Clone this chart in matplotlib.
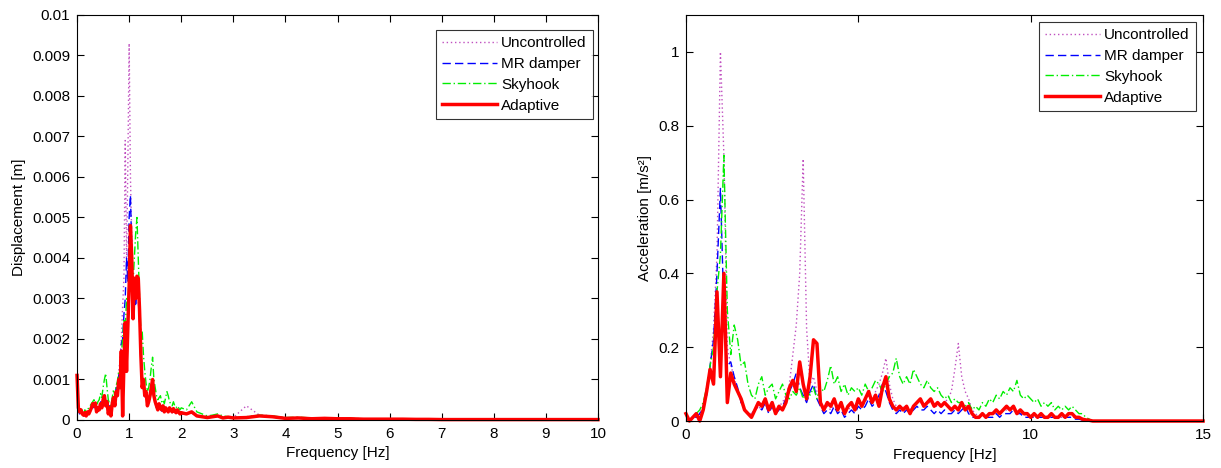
import numpy as np
import matplotlib
matplotlib.use('Agg')
import matplotlib.pyplot as plt
from matplotlib.ticker import MultipleLocator, FuncFormatter

plt.rcParams['font.family'] = ['Liberation Sans', 'DejaVu Sans']
plt.rcParams['font.size'] = 10

LABELS = ['Uncontrolled', 'MR damper', 'Skyhook', 'Adaptive']

# ---- left panel: displacement spectrum, values in mm ----
# frequency grid: 0..1.975 step 0.025, 2.0..2.9 step 0.1, 3.0..10 step 0.25
freq_disp = np.concatenate([np.arange(80) * 0.025,
                            2.0 + np.arange(10) * 0.1,
                            3.0 + np.arange(29) * 0.25])

disp_uncontrolled = [
    1.00, 0.30, 0.20, 0.25, 0.15, 0.12, 0.20, 0.15, 0.20, 0.22,
    0.28, 0.30, 0.38, 0.35, 0.40, 0.25, 0.30, 0.30, 0.42, 0.35,
    0.55, 0.60, 0.40, 0.50, 0.25, 0.35, 0.20, 0.45, 0.60, 0.50,
    0.80, 0.75, 1.20, 1.50, 2.00, 2.80, 3.50, 6.90, 3.80, 6.30,
    9.30, 6.00, 4.50, 3.20, 3.40, 3.00, 3.30, 3.10, 2.50, 1.50,
    1.00, 0.90, 0.60, 0.65, 0.45, 0.45, 0.60, 0.75, 0.95, 0.60,
    0.45, 0.32, 0.28, 0.38, 0.30, 0.25, 0.32, 0.22, 0.30, 0.25,
    0.22, 0.28, 0.24, 0.20, 0.27, 0.22, 0.18, 0.24, 0.20, 0.15,
    0.18, 0.15, 0.20, 0.12, 0.08, 0.07, 0.08, 0.10, 0.06, 0.07,
    0.06, 0.35, 0.12, 0.10, 0.05, 0.06, 0.04, 0.05, 0.03, 0.03,
    0.02, 0.02, 0.02, 0.02, 0.015, 0.015, 0.01, 0.01, 0.01, 0.01,
    0.01, 0.01, 0.01, 0.01, 0.01, 0.01, 0.01, 0.01, 0.01,
]
disp_mr = [
    0.90, 0.25, 0.15, 0.20, 0.12, 0.10, 0.15, 0.12, 0.18, 0.20,
    0.25, 0.28, 0.35, 0.30, 0.38, 0.25, 0.30, 0.30, 0.45, 0.35,
    0.55, 0.55, 0.40, 0.50, 0.25, 0.35, 0.20, 0.45, 0.60, 0.50,
    0.80, 0.75, 1.10, 1.20, 1.90, 2.00, 2.60, 3.00, 4.00, 3.40,
    5.00, 5.55, 4.20, 3.00, 3.30, 2.80, 3.20, 3.00, 2.40, 1.40,
    0.90, 0.80, 0.55, 0.60, 0.40, 0.40, 0.55, 0.70, 0.90, 0.55,
    0.40, 0.30, 0.25, 0.35, 0.28, 0.22, 0.30, 0.20, 0.28, 0.22,
    0.20, 0.25, 0.22, 0.18, 0.25, 0.20, 0.16, 0.22, 0.18, 0.14,
    0.16, 0.14, 0.18, 0.10, 0.07, 0.06, 0.07, 0.09, 0.05, 0.06,
    0.05, 0.05, 0.12, 0.07, 0.04, 0.05, 0.03, 0.04, 0.03, 0.03,
    0.02, 0.02, 0.02, 0.02, 0.015, 0.015, 0.01, 0.01, 0.01, 0.01,
    0.01, 0.01, 0.01, 0.01, 0.01, 0.01, 0.01, 0.01, 0.01,
]
disp_skyhook = [
    0.80, 0.30, 0.25, 0.30, 0.20, 0.15, 0.25, 0.20, 0.25, 0.30,
    0.35, 0.40, 0.45, 0.50, 0.40, 0.35, 0.45, 0.50, 0.65, 0.55,
    0.80, 1.00, 1.15, 0.80, 0.50, 0.40, 0.35, 0.55, 0.75, 0.60,
    0.85, 0.95, 1.20, 1.10, 1.60, 2.00, 2.50, 2.20, 3.00, 2.80,
    3.60, 4.20, 3.80, 3.40, 4.00, 4.60, 5.00, 4.00, 3.00, 2.20,
    2.20, 1.60, 1.20, 0.90, 0.70, 0.80, 1.00, 1.30, 1.55, 1.00,
    0.80, 0.60, 0.50, 0.55, 0.60, 0.45, 0.50, 0.40, 0.55, 0.70,
    0.60, 0.45, 0.40, 0.35, 0.45, 0.35, 0.30, 0.35, 0.30, 0.25,
    0.30, 0.25, 0.45, 0.20, 0.15, 0.10, 0.12, 0.15, 0.10, 0.08,
    0.07, 0.08, 0.12, 0.10, 0.06, 0.07, 0.05, 0.05, 0.04, 0.04,
    0.03, 0.03, 0.03, 0.02, 0.02, 0.02, 0.015, 0.01, 0.01, 0.01,
    0.01, 0.01, 0.01, 0.01, 0.01, 0.01, 0.01, 0.01, 0.01,
]
disp_adaptive = [
    1.10, 0.30, 0.20, 0.25, 0.15, 0.12, 0.18, 0.10, 0.20, 0.15,
    0.22, 0.30, 0.40, 0.35, 0.42, 0.20, 0.30, 0.25, 0.40, 0.30,
    0.50, 0.60, 0.35, 0.45, 0.15, 0.30, 0.10, 0.40, 0.55, 0.35,
    0.70, 0.60, 1.00, 0.80, 1.70, 0.10, 1.40, 2.40, 1.20, 2.30,
    3.30, 4.80, 4.00, 2.50, 3.50, 3.00, 3.55, 3.50, 2.70, 1.60,
    0.80, 1.00, 0.60, 0.70, 0.35, 0.45, 0.60, 0.80, 1.00, 0.60,
    0.45, 0.35, 0.25, 0.40, 0.30, 0.25, 0.35, 0.20, 0.30, 0.25,
    0.20, 0.30, 0.25, 0.20, 0.28, 0.22, 0.18, 0.25, 0.20, 0.15,
    0.18, 0.15, 0.20, 0.10, 0.08, 0.06, 0.08, 0.10, 0.05, 0.07,
    0.05, 0.06, 0.10, 0.08, 0.04, 0.05, 0.03, 0.04, 0.03, 0.03,
    0.02, 0.02, 0.02, 0.02, 0.015, 0.015, 0.01, 0.01, 0.01, 0.01,
    0.01, 0.01, 0.01, 0.01, 0.01, 0.01, 0.01, 0.01, 0.01,
]

# ---- right panel: acceleration spectrum, m/s^2 ----
# frequency grid: 0..11.9 step 0.1, then 12, 13, 14, 15
freq_acc = np.concatenate([np.arange(120) * 0.1, [12.0, 13.0, 14.0, 15.0]])

acc_uncontrolled = [
    0.01, 0.00, 0.01, 0.01, 0.02, 0.04, 0.08, 0.15, 0.25, 0.45,
    1.00, 0.72, 0.20, 0.15, 0.12, 0.08, 0.05, 0.03, 0.02, 0.02,
    0.03, 0.04, 0.03, 0.05, 0.03, 0.04, 0.03, 0.04, 0.05, 0.07,
    0.10, 0.18, 0.26, 0.40, 0.71, 0.25, 0.10, 0.12, 0.08, 0.05,
    0.03, 0.04, 0.03, 0.05, 0.03, 0.04, 0.02, 0.03, 0.04, 0.03,
    0.05, 0.04, 0.05, 0.07, 0.05, 0.08, 0.10, 0.13, 0.17, 0.10,
    0.06, 0.04, 0.03, 0.04, 0.03, 0.03, 0.04, 0.05, 0.05, 0.04,
    0.05, 0.05, 0.04, 0.04, 0.04, 0.05, 0.06, 0.08, 0.14, 0.21,
    0.12, 0.08, 0.06, 0.03, 0.02, 0.01, 0.02, 0.01, 0.02, 0.02,
    0.02, 0.02, 0.03, 0.03, 0.03, 0.03, 0.02, 0.02, 0.02, 0.01,
    0.01, 0.01, 0.01, 0.01, 0.01, 0.01, 0.01, 0.01, 0.01, 0.01,
    0.01, 0.01, 0.01, 0.01, 0.005, 0.003, 0.002, 0.0, 0.0, 0.0,
    0.0, 0.0, 0.0, 0.0,
]
acc_mr = [
    0.01, 0.00, 0.01, 0.01, 0.02, 0.04, 0.07, 0.15, 0.22, 0.40,
    0.63, 0.30, 0.15, 0.16, 0.12, 0.09, 0.05, 0.03, 0.02, 0.02,
    0.03, 0.04, 0.03, 0.05, 0.02, 0.04, 0.02, 0.03, 0.04, 0.06,
    0.08, 0.10, 0.13, 0.09, 0.07, 0.05, 0.08, 0.10, 0.06, 0.04,
    0.02, 0.03, 0.02, 0.04, 0.02, 0.03, 0.01, 0.02, 0.03, 0.02,
    0.04, 0.03, 0.04, 0.06, 0.04, 0.05, 0.07, 0.10, 0.08, 0.05,
    0.03, 0.02, 0.03, 0.02, 0.03, 0.02, 0.03, 0.04, 0.03, 0.03,
    0.04, 0.03, 0.02, 0.03, 0.02, 0.03, 0.02, 0.02, 0.03, 0.02,
    0.03, 0.04, 0.02, 0.01, 0.01, 0.01, 0.01, 0.01, 0.01, 0.01,
    0.02, 0.01, 0.02, 0.02, 0.02, 0.03, 0.02, 0.02, 0.01, 0.01,
    0.01, 0.01, 0.01, 0.01, 0.01, 0.01, 0.01, 0.01, 0.01, 0.01,
    0.01, 0.01, 0.01, 0.005, 0.005, 0.003, 0.002, 0.0, 0.0, 0.0,
    0.0, 0.0, 0.0, 0.0,
]
acc_skyhook = [
    0.01, 0.00, 0.01, 0.02, 0.03, 0.05, 0.09, 0.15, 0.20, 0.35,
    0.45, 0.72, 0.30, 0.18, 0.26, 0.22, 0.15, 0.16, 0.10, 0.07,
    0.06, 0.10, 0.12, 0.07, 0.09, 0.10, 0.06, 0.08, 0.10, 0.07,
    0.06, 0.08, 0.07, 0.09, 0.06, 0.08, 0.07, 0.09, 0.06, 0.09,
    0.08, 0.11, 0.15, 0.10, 0.12, 0.08, 0.10, 0.07, 0.09, 0.08,
    0.09, 0.07, 0.10, 0.08, 0.09, 0.11, 0.10, 0.08, 0.10, 0.12,
    0.13, 0.17, 0.12, 0.10, 0.12, 0.10, 0.14, 0.12, 0.10, 0.09,
    0.11, 0.09, 0.08, 0.09, 0.07, 0.06, 0.07, 0.05, 0.06, 0.05,
    0.05, 0.04, 0.05, 0.03, 0.04, 0.03, 0.05, 0.04, 0.06, 0.05,
    0.07, 0.06, 0.08, 0.07, 0.09, 0.08, 0.11, 0.07, 0.06, 0.07,
    0.06, 0.05, 0.06, 0.04, 0.05, 0.04, 0.05, 0.03, 0.04, 0.03,
    0.04, 0.03, 0.04, 0.03, 0.02, 0.02, 0.01, 0.005, 0.0, 0.0,
    0.0, 0.0, 0.0, 0.0,
]
acc_adaptive = [
    0.02, 0.00, 0.01, 0.02, 0.00, 0.03, 0.08, 0.14, 0.10, 0.35,
    0.12, 0.40, 0.05, 0.13, 0.10, 0.08, 0.06, 0.03, 0.02, 0.01,
    0.03, 0.05, 0.04, 0.06, 0.03, 0.05, 0.02, 0.04, 0.03, 0.05,
    0.09, 0.11, 0.08, 0.16, 0.10, 0.06, 0.12, 0.22, 0.21, 0.05,
    0.03, 0.05, 0.04, 0.06, 0.03, 0.05, 0.02, 0.04, 0.05, 0.03,
    0.06, 0.04, 0.06, 0.08, 0.05, 0.07, 0.04, 0.09, 0.12, 0.06,
    0.04, 0.03, 0.04, 0.03, 0.04, 0.02, 0.04, 0.05, 0.06, 0.04,
    0.05, 0.06, 0.04, 0.05, 0.04, 0.05, 0.04, 0.03, 0.04, 0.03,
    0.05, 0.03, 0.04, 0.02, 0.01, 0.01, 0.02, 0.01, 0.02, 0.02,
    0.03, 0.02, 0.03, 0.04, 0.03, 0.04, 0.02, 0.03, 0.02, 0.02,
    0.01, 0.02, 0.01, 0.02, 0.01, 0.01, 0.02, 0.01, 0.01, 0.02,
    0.01, 0.02, 0.02, 0.01, 0.01, 0.005, 0.003, 0.002, 0.0, 0.0,
    0.0, 0.0, 0.0, 0.0,
]

STYLES = [
    dict(color='#c050c0', linestyle=(0, (1, 2)), linewidth=1.0),
    dict(color='#0000ff', linestyle=(0, (6, 3)), linewidth=1.0),
    dict(color='#00ee00', linestyle=(0, (6, 2, 1, 2)), linewidth=1.0),
    dict(color='#ff0000', linestyle='-', linewidth=2.5, clip_on=False),
]


def style_axes(ax):
    ax.tick_params(direction='in', top=True, right=True, length=5, width=0.8,
                   labelsize=11, pad=5)
    for sp in ax.spines.values():
        sp.set_linewidth(0.8)
        sp.set_color('black')


fig = plt.figure(figsize=(12.21, 4.68), dpi=100)
ax1 = fig.add_axes([0.0631, 0.1026, 0.4267, 0.8654])
ax2 = fig.add_axes([0.5618, 0.1004, 0.4235, 0.8676])

disp_series = [disp_uncontrolled, disp_mr, disp_skyhook, disp_adaptive]
for vals, lab, st in zip(disp_series, LABELS, STYLES):
    ax1.plot(freq_disp, np.array(vals) * 1e-3, label=lab, **st)
ax1.set_xlim(0, 10)
ax1.set_ylim(0, 0.01)
ax1.xaxis.set_major_locator(MultipleLocator(1))
ax1.yaxis.set_major_locator(MultipleLocator(0.001))
ax1.yaxis.set_major_formatter(FuncFormatter(lambda v, p: '%g' % round(v, 4)))
ax1.set_xlabel('Frequency [Hz]', fontsize=11)
ax1.set_ylabel('Displacement [m]', fontsize=11)
style_axes(ax1)
leg1 = ax1.legend(loc='upper right', bbox_to_anchor=(0.990, 0.963), fontsize=11,
                  frameon=True, fancybox=False, edgecolor='black',
                  handlelength=3.6, labelspacing=0.45, borderpad=0.4,
                  handletextpad=0.3, borderaxespad=0)
leg1.get_frame().set_linewidth(0.8)

acc_series = [acc_uncontrolled, acc_mr, acc_skyhook, acc_adaptive]
for vals, lab, st in zip(acc_series, LABELS, STYLES):
    ax2.plot(freq_acc, vals, label=lab, **st)
ax2.set_xlim(0, 15)
ax2.set_ylim(0, 1.1)
ax2.set_xticks([0, 5, 10, 15])
ax2.set_yticks([0, 0.2, 0.4, 0.6, 0.8, 1.0])
ax2.yaxis.set_major_formatter(FuncFormatter(lambda v, p: '%g' % round(v, 2)))
ax2.set_xlabel('Frequency [Hz]', fontsize=11)
ax2.set_ylabel('Acceleration [m/s²]', fontsize=11)
style_axes(ax2)
leg2 = ax2.legend(loc='upper right', bbox_to_anchor=(0.986, 0.983), fontsize=11,
                  frameon=True, fancybox=False, edgecolor='black',
                  handlelength=3.6, labelspacing=0.45, borderpad=0.4,
                  handletextpad=0.3, borderaxespad=0)
leg2.get_frame().set_linewidth(0.8)

fig.savefig('out.png', dpi=100)
